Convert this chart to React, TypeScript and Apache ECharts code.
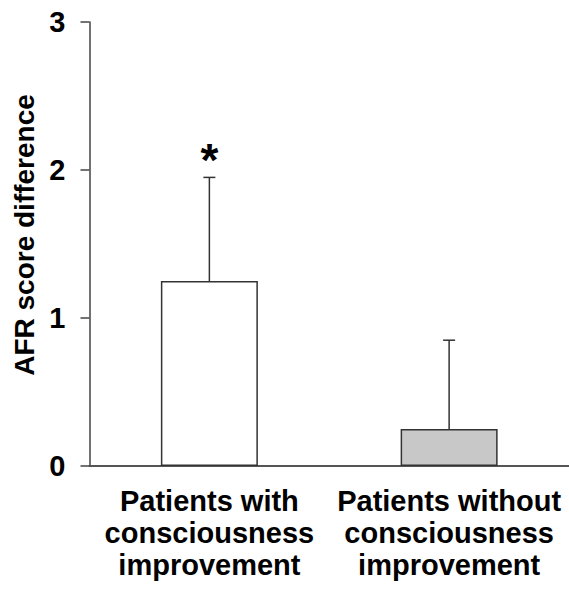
import React, { useEffect, useRef } from "react";
import * as echarts from "echarts";

const categories = [
  "Patients with\nconsciousness\nimprovement",
  "Patients without\nconsciousness\nimprovement",
];
const means = [1.25, 0.25];
const errors = [0.7, 0.6];
const significance = ["*", ""];
const barColors = ["#ffffff", "#c8c8c8"];
const yTicks = { min: 0, max: 3, interval: 1 };
const yTitle = "AFR score difference";

const FONT = "'Liberation Sans', Arial, Helvetica, sans-serif";

export default function App() {
  const ref = useRef<HTMLDivElement>(null);
  useEffect(() => {
    if (!ref.current) return;
    const chart = echarts.init(ref.current, null, { renderer: "svg" });
    const option = {
      animation: false,
      backgroundColor: "#ffffff",
      grid: { left: 89.5, top: 22, width: 484, height: 444, containLabel: false },
      graphic: [
        {
          type: "text",
          x: 24,
          y: 235,
          rotation: Math.PI / 2,
          style: {
            text: yTitle,
            align: "center",
            verticalAlign: "middle",
            fontSize: 28,
            fontWeight: "bold",
            fontFamily: FONT,
            fill: "#000",
          },
        },
      ],
      xAxis: {
        type: "category",
        data: categories,
        axisTick: { show: false },
        axisLine: { show: true, lineStyle: { color: "#555", width: 2 } },
        axisLabel: {
          interval: 0,
          margin: 19,
          fontSize: 29,
          lineHeight: 32,
          fontWeight: "bold",
          fontFamily: FONT,
          color: "#000",
          align: "center",
        },
      },
      yAxis: {
        type: "value",
        min: yTicks.min,
        max: yTicks.max,
        interval: yTicks.interval,
        splitLine: { show: false },
        axisLine: { show: true, lineStyle: { color: "#444", width: 1.5 } },
        axisTick: { show: true, length: 9, lineStyle: { color: "#444", width: 1.5 } },
        axisLabel: {
          margin: 24,
          fontSize: 29,
          fontWeight: "bold",
          fontFamily: FONT,
          color: "#000",
        },
      },
      series: [
        {
          type: "bar",
          barWidth: 97,
          z: 2,
          data: means.map((v, i) => ({
            value: v,
            itemStyle: { color: barColors[i], borderColor: "#333", borderWidth: 1.5 },
          })),
        },
        {
          type: "custom",
          z: 3,
          data: means.map((v, i) => [i, v, v + errors[i]]),
          renderItem: (params: any, api: any) => {
            const idx = params.dataIndex;
            const x = api.value(0);
            const top = api.coord([x, api.value(1)]);
            const end = api.coord([x, api.value(2)]);
            const children: any[] = [
              {
                type: "line",
                shape: { x1: top[0], y1: top[1], x2: end[0], y2: end[1] },
                style: { stroke: "#333", lineWidth: 1.5 },
              },
              {
                type: "line",
                shape: { x1: end[0] - 6, y1: end[1], x2: end[0] + 6, y2: end[1] },
                style: { stroke: "#333", lineWidth: 1.5 },
              },
            ];
            if (significance[idx]) {
              children.push({
                type: "text",
                x: end[0],
                y: end[1] - 17,
                style: {
                  text: significance[idx],
                  align: "center",
                  verticalAlign: "middle",
                  fontSize: 46,
                  fontWeight: "bold",
                  fontFamily: FONT,
                  fill: "#000",
                },
              });
            }
            return { type: "group", children };
          },
        },
      ],
    };
    chart.setOption(option as any);
    return () => chart.dispose();
  }, []);
  return (
    <div
      ref={ref}
      style={{ position: "absolute", left: 0, top: 0, width: 569, height: 590, background: "#fff" }}
    />
  );
}
